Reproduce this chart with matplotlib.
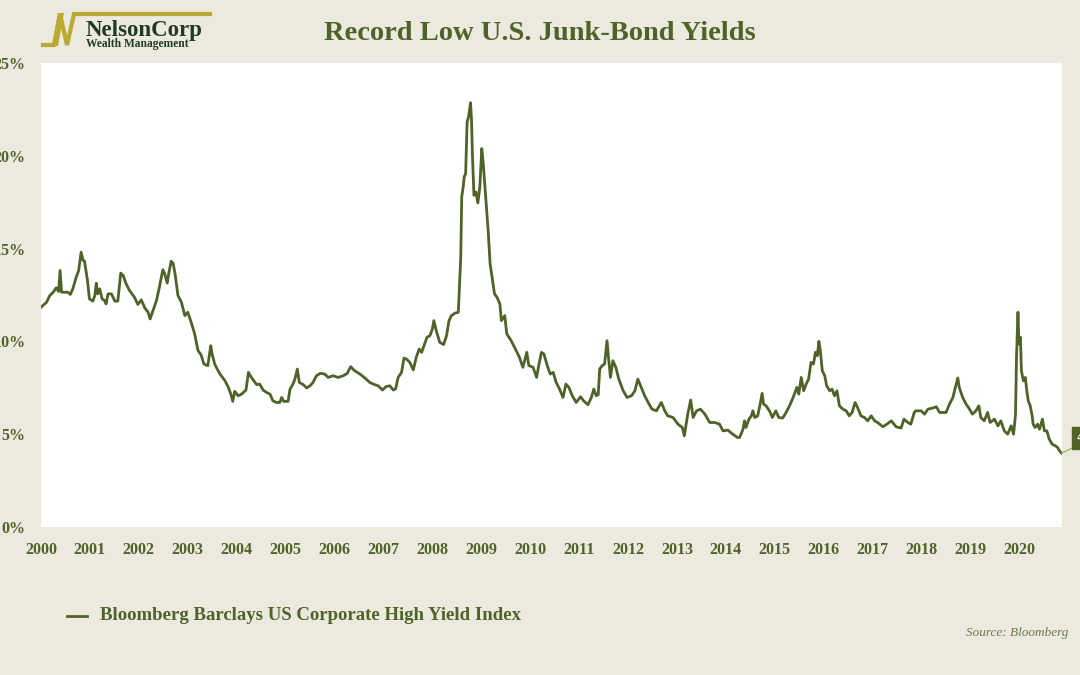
import numpy as np
import matplotlib.pyplot as plt
from matplotlib.lines import Line2D
from matplotlib.patches import Polygon

# data (x = position in years, y = yield in %)
years = [
    2000.00, 2000.11, 2000.18, 2000.25, 2000.31, 2000.36, 2000.39, 2000.42, 2000.55, 2000.60,
    2000.65, 2000.72, 2000.77, 2000.82, 2000.86, 2000.89, 2000.95, 2000.99, 2001.06, 2001.10,
    2001.13, 2001.16, 2001.20, 2001.25, 2001.30, 2001.33, 2001.37, 2001.44, 2001.51, 2001.57,
    2001.63, 2001.68, 2001.74, 2001.81, 2001.91, 2001.98, 2002.05, 2002.12, 2002.19, 2002.23,
    2002.29, 2002.36, 2002.42, 2002.49, 2002.53, 2002.58, 2002.61, 2002.66, 2002.70, 2002.74,
    2002.80, 2002.87, 2002.94, 2003.00, 2003.07, 2003.14, 2003.21, 2003.27, 2003.33, 2003.41,
    2003.47, 2003.50, 2003.55, 2003.62, 2003.66, 2003.76, 2003.83, 2003.88, 2003.92, 2003.96,
    2004.03, 2004.10, 2004.19, 2004.24, 2004.30, 2004.41, 2004.47, 2004.54, 2004.61, 2004.68,
    2004.74, 2004.81, 2004.88, 2004.92, 2004.96, 2005.05, 2005.09, 2005.15, 2005.19, 2005.24,
    2005.28, 2005.36, 2005.43, 2005.50, 2005.56, 2005.63, 2005.71, 2005.80, 2005.87, 2005.97,
    2006.07, 2006.18, 2006.26, 2006.33, 2006.41, 2006.52, 2006.62, 2006.72, 2006.82, 2006.89,
    2006.98, 2007.05, 2007.13, 2007.20, 2007.25, 2007.30, 2007.37, 2007.42, 2007.47, 2007.54,
    2007.61, 2007.67, 2007.73, 2007.78, 2007.84, 2007.89, 2007.95, 2008.00, 2008.03, 2008.08,
    2008.15, 2008.23, 2008.29, 2008.34, 2008.39, 2008.46, 2008.53, 2008.55, 2008.58, 2008.60,
    2008.63, 2008.65, 2008.68, 2008.71, 2008.74, 2008.78, 2008.80, 2008.82, 2008.85, 2008.89,
    2008.93, 2008.97, 2009.01, 2009.04, 2009.09, 2009.14, 2009.18, 2009.24, 2009.27, 2009.32,
    2009.38, 2009.41, 2009.48, 2009.52, 2009.61, 2009.68, 2009.78, 2009.85, 2009.93, 2009.97,
    2010.06, 2010.13, 2010.18, 2010.23, 2010.28, 2010.32, 2010.36, 2010.41, 2010.47, 2010.53,
    2010.60, 2010.67, 2010.73, 2010.79, 2010.86, 2010.94, 2011.03, 2011.09, 2011.18, 2011.25,
    2011.30, 2011.35, 2011.39, 2011.42, 2011.47, 2011.52, 2011.57, 2011.60, 2011.64, 2011.69,
    2011.75, 2011.81, 2011.90, 2011.98, 2012.07, 2012.14, 2012.20, 2012.27, 2012.34, 2012.43,
    2012.49, 2012.58, 2012.68, 2012.75, 2012.81, 2012.92, 2013.02, 2013.11, 2013.15, 2013.22,
    2013.28, 2013.33, 2013.40, 2013.48, 2013.57, 2013.67, 2013.77, 2013.87, 2013.94, 2014.04,
    2014.14, 2014.24, 2014.28, 2014.35, 2014.38, 2014.41, 2014.47, 2014.52, 2014.55, 2014.59,
    2014.65, 2014.70, 2014.74, 2014.77, 2014.82, 2014.89, 2014.95, 2015.02, 2015.08, 2015.16,
    2015.23, 2015.30, 2015.36, 2015.40, 2015.45, 2015.49, 2015.54, 2015.59, 2015.64, 2015.69,
    2015.74, 2015.79, 2015.83, 2015.87, 2015.90, 2015.93, 2015.97, 2016.02, 2016.06, 2016.12,
    2016.17, 2016.22, 2016.27, 2016.32, 2016.39, 2016.46, 2016.52, 2016.58, 2016.64, 2016.69,
    2016.76, 2016.83, 2016.90, 2016.97, 2017.04, 2017.10, 2017.21, 2017.29, 2017.38, 2017.48,
    2017.58, 2017.64, 2017.72, 2017.78, 2017.85, 2017.88, 2017.99, 2018.06, 2018.13, 2018.23,
    2018.30, 2018.37, 2018.50, 2018.57, 2018.64, 2018.69, 2018.74, 2018.77, 2018.84, 2018.91,
    2018.98, 2019.04, 2019.11, 2019.17, 2019.21, 2019.28, 2019.35, 2019.40, 2019.49, 2019.56,
    2019.62, 2019.69, 2019.76, 2019.83, 2019.88, 2019.92, 2019.94, 2019.97, 2019.99, 2020.02,
    2020.04, 2020.08, 2020.12, 2020.15, 2020.18, 2020.22, 2020.26, 2020.28, 2020.32, 2020.37,
    2020.41, 2020.47, 2020.51, 2020.56, 2020.61, 2020.67, 2020.74, 2020.78, 2020.82, 2020.86,
]
yields = [
    11.84, 12.10, 12.47, 12.65, 12.89, 12.69, 13.82, 12.65, 12.65, 12.53,
    12.83, 13.46, 13.82, 14.81, 14.36, 14.32, 13.28, 12.29, 12.17, 12.47,
    13.14, 12.56, 12.83, 12.29, 12.20, 12.02, 12.56, 12.56, 12.17, 12.17,
    13.68, 13.55, 13.10, 12.74, 12.38, 11.99, 12.24, 11.81, 11.57, 11.21,
    11.66, 12.20, 12.92, 13.86, 13.64, 13.14, 13.64, 14.32, 14.22, 13.64,
    12.47, 12.11, 11.39, 11.57, 11.03, 10.41, 9.50, 9.29, 8.78, 8.69,
    9.77, 9.30, 8.78, 8.42, 8.24, 7.88, 7.52, 7.16, 6.77, 7.31,
    7.07, 7.16, 7.38, 8.33, 8.06, 7.67, 7.70, 7.38, 7.25, 7.16,
    6.80, 6.71, 6.71, 6.98, 6.77, 6.77, 7.43, 7.70, 7.97, 8.51,
    7.79, 7.67, 7.49, 7.61, 7.79, 8.15, 8.28, 8.24, 8.06, 8.15,
    8.06, 8.15, 8.28, 8.64, 8.42, 8.24, 8.03, 7.79, 7.67, 7.61,
    7.38, 7.56, 7.61, 7.38, 7.45, 8.06, 8.33, 9.10, 9.05, 8.87,
    8.46, 9.14, 9.59, 9.41, 9.86, 10.22, 10.31, 10.67, 11.12, 10.58,
    9.95, 9.83, 10.31, 11.12, 11.39, 11.52, 11.57, 12.74, 14.54, 17.78,
    18.32, 18.86, 19.04, 21.83, 22.10, 22.86, 21.92, 19.94, 17.87, 18.05,
    17.46, 18.32, 20.39, 19.58, 17.78, 15.98, 14.18, 13.10, 12.56, 12.38,
    12.02, 11.12, 11.39, 10.41, 10.04, 9.68, 9.14, 8.60, 9.41, 8.70,
    8.60, 8.06, 8.78, 9.41, 9.32, 8.96, 8.60, 8.24, 8.33, 7.79,
    7.43, 6.98, 7.70, 7.52, 7.07, 6.71, 7.02, 6.80, 6.59, 6.98,
    7.43, 7.07, 7.13, 8.51, 8.69, 8.78, 10.04, 9.14, 8.06, 8.96,
    8.60, 7.97, 7.34, 6.98, 7.07, 7.34, 7.97, 7.52, 7.07, 6.62,
    6.35, 6.26, 6.71, 6.26, 5.99, 5.90, 5.54, 5.36, 4.91, 6.08,
    6.84, 5.90, 6.26, 6.35, 6.08, 5.63, 5.63, 5.54, 5.18, 5.22,
    5.00, 4.82, 4.82, 5.27, 5.72, 5.36, 5.81, 5.99, 6.26, 5.90,
    5.99, 6.62, 7.20, 6.62, 6.53, 6.26, 5.90, 6.26, 5.90, 5.87,
    6.17, 6.53, 6.89, 7.16, 7.52, 7.16, 8.06, 7.34, 7.70, 7.97,
    8.87, 8.78, 9.41, 9.23, 10.00, 9.50, 8.42, 8.15, 7.61, 7.34,
    7.43, 7.07, 7.34, 6.53, 6.35, 6.26, 5.99, 6.17, 6.71, 6.44,
    5.99, 5.90, 5.72, 5.99, 5.72, 5.63, 5.40, 5.54, 5.72, 5.40,
    5.33, 5.81, 5.63, 5.54, 6.17, 6.26, 6.26, 6.08, 6.35, 6.41,
    6.48, 6.17, 6.17, 6.62, 6.98, 7.52, 8.03, 7.52, 6.98, 6.62,
    6.35, 6.08, 6.26, 6.53, 5.90, 5.72, 6.17, 5.63, 5.81, 5.45,
    5.72, 5.18, 5.00, 5.45, 5.00, 6.08, 9.14, 11.57, 9.86, 10.22,
    8.42, 7.88, 8.06, 7.34, 6.80, 6.53, 5.99, 5.54, 5.36, 5.54,
    5.27, 5.81, 5.18, 5.18, 4.73, 4.46, 4.37, 4.28, 4.10, 3.98,
]

tick_years = list(range(2000, 2021))
y_ticks = [0, 5, 10, 15, 20, 25]
series_name = 'Bloomberg Barclays US Corporate High Yield Index'

BG = '#ECE9DF'
GREEN = '#4F6228'
SERIF = ['Liberation Serif', 'DejaVu Serif']

W, H = 1080, 675
fig = plt.figure(figsize=(10.8, 6.75), dpi=100, facecolor=BG)
ax = fig.add_axes([41 / W, 1 - 527 / H, (1062 - 41) / W, (527 - 63) / H])
ax.set_facecolor('white')

ax.plot(years, yields, color=GREEN, lw=2.0, solid_joinstyle='round')
ax.set_xlim(2000, 2020.87)
ax.set_ylim(0, 25)

ax.set_xticks(tick_years)
ax.set_xticklabels([str(y) for y in tick_years])
ax.set_yticks(y_ticks)
ax.set_yticklabels([f'{v}%' for v in y_ticks])
for lab in ax.get_xticklabels() + ax.get_yticklabels():
    lab.set_fontfamily(SERIF)
    lab.set_fontweight('bold')
    lab.set_fontsize(11.5)
    lab.set_color(GREEN)
ax.tick_params(axis='x', length=0, pad=11)
ax.tick_params(axis='y', length=0, pad=11)
for s in ax.spines.values():
    s.set_visible(False)

# end-of-series label (cut off by the right edge in the original)
ax.annotate('4.0%', xy=(years[-1], yields[-1]), xytext=(11, 11),
            textcoords='offset points', annotation_clip=False,
            color='white', fontsize=11, fontweight='bold', family=SERIF,
            va='center', ha='left',
            bbox=dict(boxstyle='square,pad=0.3', fc=GREEN, ec=GREEN),
            arrowprops=dict(arrowstyle='-', color='#8DB04F', lw=0.8,
                            shrinkA=0, shrinkB=0))

# title
fig.text(540 / W, 1 - 40 / H, 'Record Low U.S. Junk-Bond Yields', ha='center', va='baseline',
         fontsize=20.5, fontweight='bold', family=SERIF, color=GREEN)

# legend
fig.add_artist(Line2D([67 / W, 87 / W], [1 - 616 / H, 1 - 616 / H], color=GREEN, lw=2))
fig.text(100 / W, 1 - 616 / H, series_name, ha='left', va='center',
         fontsize=13.5, fontweight='bold', family=SERIF, color=GREEN)

# source
fig.text(1068 / W, 1 - 633 / H, 'Source: Bloomberg', ha='right', va='center',
         fontsize=9.5, style='italic', family=SERIF, color='#6B7A4A')

# logo
GOLD = '#B8AA32'
px = np.array([43, 54, 60, 67, 74, 210])
py = np.array([45, 45, 14, 45, 14, 14])
fig.add_artist(Line2D(px / W, 1 - py / H, color=GOLD, lw=3, solid_joinstyle='miter'))
fig.add_artist(Polygon([(52 / W, 1 - 46 / H), (58 / W, 1 - 46 / H),
                        (64 / W, 1 - 13 / H), (58 / W, 1 - 13 / H)],
                       closed=True, fc=GOLD, ec='none', transform=fig.transFigure))
fig.text(86 / W, 1 - 36 / H, 'NelsonCorp', ha='left', va='baseline',
         fontsize=16.5, fontweight='bold', family=SERIF, color='#1F3B24')
fig.text(86 / W, 1 - 47.5 / H, 'Wealth Management', ha='left', va='baseline',
         fontsize=8.3, fontweight='bold', family=SERIF, color='#1F3B24')

fig.savefig('out.png', dpi=100, facecolor=BG)
